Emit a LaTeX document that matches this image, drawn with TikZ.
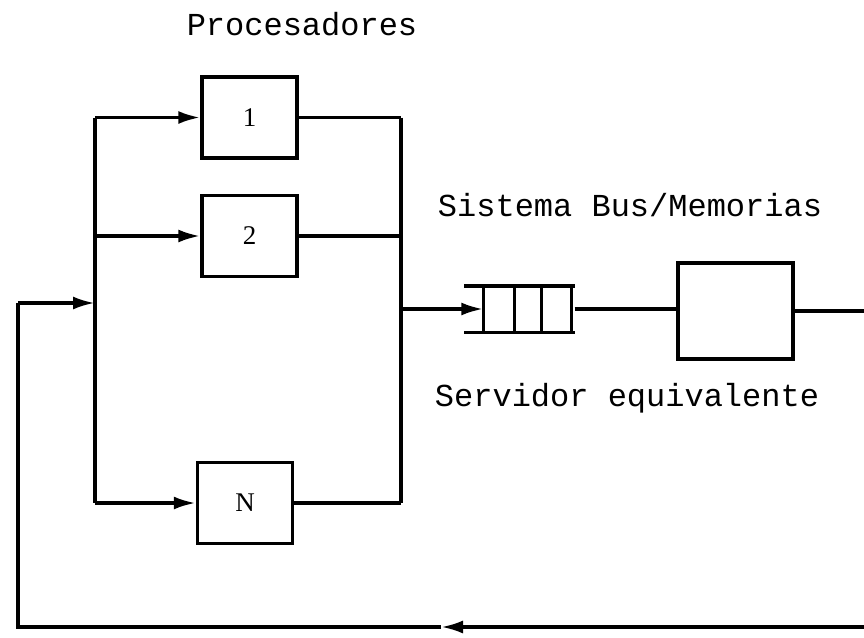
\documentclass[tikz,border=0pt]{standalone}
\usepackage{fontspec}
\setmainfont{Liberation Serif}
\setmonofont{Liberation Mono}
\usetikzlibrary{arrows.meta, positioning, calc}

\begin{document}
\begin{tikzpicture}[
	x={(1pt,0pt)},
	y={(0pt,-1pt)},
	>={Latex[length=22pt,width=13pt]},
	line width=3.4pt,
	procbox/.style={draw, line width=3.4pt, minimum width=95pt, minimum height=81pt, inner sep=0pt, font=\fontsize{27}{30}\selectfont},
	srvbox/.style={draw, line width=3.4pt, minimum width=115pt, minimum height=96pt, inner sep=0pt},
	tlabel/.style={font=\ttfamily\fontsize{32}{36}\selectfont, inner sep=0pt}
	]
	
	\useasboundingbox (0,0) rectangle (864,637);
	
	% --------------------------------------------------
	% Labels
	% --------------------------------------------------
	\node[tlabel] (lproc) at (302,24) {Procesadores};
	\node[tlabel] (lsys) at (630,205) {Sistema Bus/Memorias};
	\node[tlabel] (lsrv) at (627,398) {Servidor equivalente};
	
	% ==================================================
	% Processors
	% ==================================================
	\node[procbox] (p1) at (249.5,117.5) {1};
	\node[procbox] (p2) at (249.5,236) {2};
	\node[procbox] (pN) at (245,503) {N};
	
	% bus junctions
	\coordinate (l1) at (95,117.5);
	\coordinate (l2) at (95,236);
	\coordinate (lf) at (95,303);
	\coordinate (lN) at (95,503);
	\coordinate (r1) at (401,117.5);
	\coordinate (r2) at (401,236);
	\coordinate (rq) at (401,309);
	\coordinate (rN) at (401,503);
	
	\draw (l1) -- (lN);
	\draw (r1) -- (rN);
	
	\draw[->] (l1) -- (p1);
	\draw[->] (l2) -- (p2);
	\draw[->] (lN) -- (pN);
	
	\draw (p1) -- (r1);
	\draw (p2) -- (r2);
	\draw (pN) -- (rN);
	
	% ==================================================
	% Bus/memory system: queue + server
	% ==================================================
	\node[minimum width=88pt, minimum height=43pt, inner sep=0pt] (q) at (529,309) {};
	\draw ($(q.north west)+(-19,0)$) -- (q.north east);
	\draw ($(q.south west)+(-19,0)$) -- (q.south east);
	\foreach \dx in {0,31,58,88}
	\draw ($(q.north west)+(\dx,0)$) -- ($(q.south west)+(\dx,0)$);
	
	\node[srvbox] (srv) at (735.5,311) {};
	
	\draw[->] (rq) -- (q.west);
	\draw (q.east) -- (q.east -| srv.west);
	
	% ==================================================
	% Feedback loop
	% ==================================================
	\coordinate (out) at (864,311);
	\coordinate (ret) at (864,627);
	\coordinate (retm) at (441,627);
	\coordinate (fbc) at (18,627);
	\coordinate (fbt) at (18,303);
	
	\draw (srv.east) -- (out);
	\draw[->] (ret) -- (retm);
	\draw (retm) -- (fbc) -- (fbt);
	\draw[->] (fbt) -- (lf);
	
\end{tikzpicture}
\end{document}
